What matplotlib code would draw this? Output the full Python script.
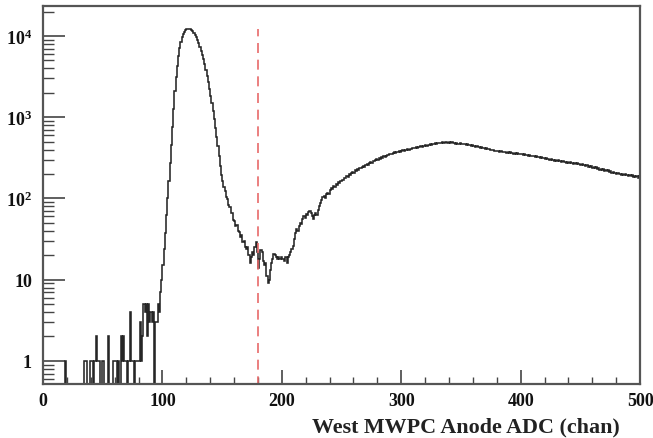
import numpy as np
import matplotlib
matplotlib.use("Agg")
import matplotlib.pyplot as plt
from matplotlib.ticker import FixedLocator, FuncFormatter, LogLocator, MultipleLocator

# Conteos por canal (ancho de bin = 1 canal)
cuentas_bajas = [  # canales 0-99
    0, 0, 0, 0, 0, 0, 0, 0, 0, 0,
    0, 0, 0, 0, 0, 0, 0, 0, 1, 0,
    0, 0, 0, 0, 0, 0, 0, 0, 0, 0,
    0, 0, 0, 0, 1, 1, 1, 0, 0, 1,
    1, 1, 0, 1, 2, 1, 1, 1, 0, 1,
    1, 0, 0, 0, 2, 0, 0, 0, 0, 1,
    1, 1, 0, 1, 0, 2, 1, 2, 1, 1,
    0, 1, 1, 4, 1, 1, 0, 1, 1, 1,
    1, 3, 1, 2, 5, 4, 5, 2, 5, 3,
    4, 3, 4, 0, 3, 3, 5, 4, 7, 10,
]
cuentas_pico = [  # canales 100-169
    15, 24, 38, 62, 100, 165, 270, 450, 750, 1250,
    2100, 3100, 4300, 5700, 7100, 8400, 9600, 10500, 11300, 11800,
    12100, 12200, 12200, 12050, 11770, 11380, 10890, 10300, 9650, 8940,
    8180, 7400, 6630, 5870, 5140, 4460, 3820, 3240, 2710, 2250,
    1840, 1490, 1200, 950, 745, 575, 440, 335, 250, 195,
    162, 138, 125, 104, 99, 83, 78, 66, 67, 55,
    53, 46, 47, 40, 39, 34, 36, 29, 30, 25,
]
cuentas_valle = [  # canales 170-239
    24, 25, 20, 16, 19, 22, 20, 25, 29, 22,
    14, 18, 23, 22, 17, 15, 16, 11, 9, 10,
    13, 16, 18, 21, 20, 19, 18, 19, 18, 19,
    18, 18, 17, 19, 16, 19, 20, 22, 24, 26,
    32, 38, 42, 40, 46, 50, 48, 56, 61, 58,
    64, 62, 68, 70, 66, 60, 56, 62, 66, 62,
    72, 80, 88, 96, 104, 108, 100, 112, 118, 115,
]
cuentas_joroba = [  # canales 240-499
    128, 133, 130, 141, 138, 150, 146, 158, 155, 166,
    171, 168, 181, 177, 190, 186, 199, 193, 205, 212,
    208, 222, 215, 231, 226, 240, 234, 247, 252, 245,
    261, 265, 258, 274, 283, 276, 291, 286, 297, 304,
    299, 312, 306, 321, 316, 330, 325, 337, 344, 339,
    352, 356, 349, 363, 370, 362, 375, 369, 381, 377,
    388, 392, 384, 399, 393, 406, 398, 411, 404, 417,
    413, 420, 428, 419, 433, 427, 440, 431, 446, 438,
    451, 448, 459, 452, 466, 458, 470, 463, 477, 469,
    482, 476, 488, 480, 491, 484, 478, 492, 486, 481,
    489, 483, 490, 478, 485, 472, 481, 474, 468, 476,
    467, 472, 462, 468, 457, 463, 451, 458, 446, 452,
    441, 447, 436, 440, 429, 433, 421, 426, 415, 420,
    409, 414, 403, 407, 396, 400, 390, 394, 385, 389,
    380, 386, 376, 381, 372, 378, 369, 374, 366, 371,
    364, 370, 361, 366, 357, 363, 354, 360, 351, 357,
    352, 356, 347, 351, 341, 346, 337, 342, 333, 338,
    331, 336, 326, 330, 321, 325, 316, 320, 311, 316,
    308, 314, 305, 309, 300, 304, 296, 301, 292, 297,
    290, 296, 287, 292, 283, 288, 280, 285, 277, 282,
    276, 281, 272, 277, 268, 273, 265, 270, 262, 267,
    261, 266, 256, 261, 251, 256, 247, 252, 243, 248,
    240, 246, 236, 241, 231, 236, 227, 232, 223, 228,
    220, 226, 216, 221, 211, 216, 207, 212, 203, 208,
    200, 206, 198, 202, 195, 201, 193, 199, 192, 197,
    190, 196, 187, 193, 184, 191, 182, 189, 180, 188,
]
corte = 180
marcas_y = [1, 10, 100, 1000, 10000]
etiquetas_y = ["1", "10", r"$10^{2}$", r"$10^{3}$", r"$10^{4}$"]

cuentas = np.array(cuentas_bajas + cuentas_pico + cuentas_valle + cuentas_joroba, dtype=float)
bordes = np.arange(len(cuentas) + 1)

plt.rcParams["font.family"] = "Liberation Serif"
plt.rcParams["font.weight"] = "bold"
plt.rcParams["mathtext.fontset"] = "custom"
plt.rcParams["mathtext.rm"] = "Liberation Serif:bold"
plt.rcParams["mathtext.bf"] = "Liberation Serif:bold"
plt.rcParams["mathtext.it"] = "Liberation Serif:bold:italic"

fig = plt.figure(figsize=(6.53, 4.39), dpi=100)
ax = fig.add_axes([0.0659, 0.123, 0.9143, 0.861])

# los bins vacios bajan hasta el borde inferior, como en ROOT
dibujo = np.where(cuentas > 0, cuentas, 1e-2)
xs = np.repeat(bordes, 2)[1:-1]
ys = np.repeat(dibujo, 2)
ax.plot(xs, ys, color="#262626", linewidth=1.15, solid_joinstyle="miter")

ax.vlines(corte, 0.3, cuentas.max(), colors="#e86a6a", linestyles=(0, (6, 4)), linewidth=1.2)

ax.set_yscale("log")
ax.set_xlim(0, 500)
ax.set_ylim(0.52, 23400)

ax.xaxis.set_major_locator(MultipleLocator(100))
ax.xaxis.set_minor_locator(MultipleLocator(20))
ax.yaxis.set_major_locator(FixedLocator(marcas_y))
ax.yaxis.set_major_formatter(FuncFormatter(lambda v, p: etiquetas_y[marcas_y.index(round(v))] if round(v) in marcas_y else ""))
ax.yaxis.set_minor_locator(LogLocator(base=10, subs=np.arange(2, 10)))
ax.yaxis.set_minor_formatter(FuncFormatter(lambda v, p: ""))

ax.tick_params(axis="both", which="both", direction="in", colors="#444444", labelcolor="#111111",
               top=False, right=False, labelsize=13)
ax.tick_params(axis="x", which="major", length=10, width=1.2, pad=6)
ax.tick_params(axis="x", which="minor", length=5, width=1.0)
ax.tick_params(axis="y", which="major", length=16, width=1.2, pad=8)
ax.tick_params(axis="y", which="minor", length=8, width=1.0)
for lab in ax.get_xticklabels() + ax.get_yticklabels():
    lab.set_fontweight("bold")

for lado in ax.spines.values():
    lado.set_color("#555555")
    lado.set_linewidth(1.6)

ax.text(0.966, -0.112, "West MWPC Anode ADC (chan)", transform=ax.transAxes,
        ha="right", va="center", fontsize=15.8, fontweight="bold", color="#222222")

plt.savefig("out.png", dpi=100)
